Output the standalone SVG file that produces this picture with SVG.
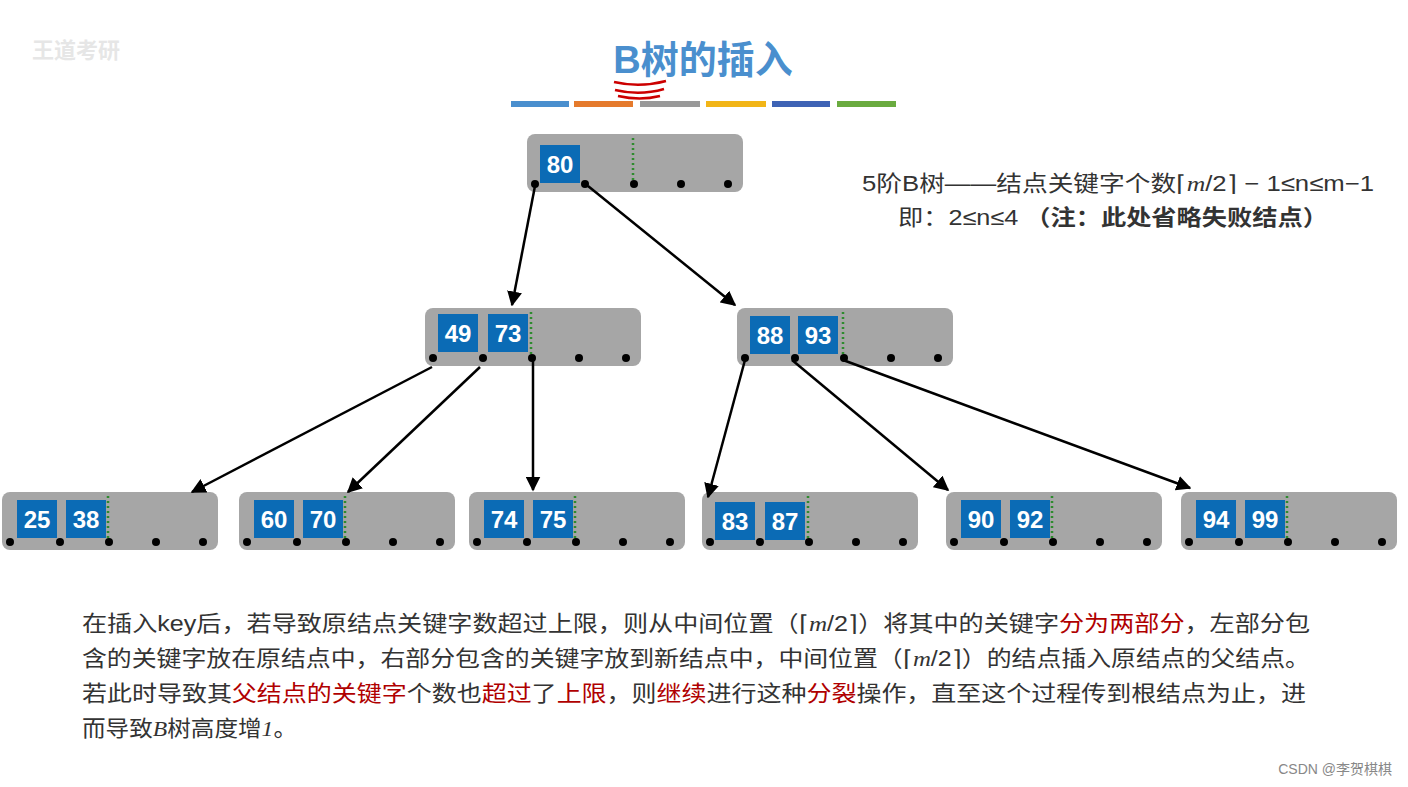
<svg xmlns="http://www.w3.org/2000/svg" width="1408" height="787" viewBox="0 0 1408 787">
<style>
.nb{fill:#a6a6a6}
.k{fill:#0b6bb5}
.kt{fill:#fff;font:bold 24px "Liberation Sans",Arial,sans-serif;text-anchor:middle}
.d{fill:#000}
.dl{stroke:#2e8b2e;stroke-width:2.5;stroke-dasharray:2 3}
.c{stroke:#000;stroke-width:2.5;fill:none;marker-end:url(#a)}
.t{font:22px "Liberation Sans","Noto Sans CJK SC",sans-serif;fill:#333}
.r{fill:#b00000}
</style>
<defs>
<marker id="a" viewBox="0 0 10 10" refX="9" refY="5" markerWidth="6" markerHeight="6" orient="auto"><path d="M0,0L10,5L0,10z" fill="#000"/></marker>
<g id="nd">
<rect class="nb" width="216" height="58" rx="8"/>
<line class="dl" x1="106" y1="4" x2="106" y2="50"/>
<circle class="d" cx="8" cy="50" r="4"/><circle class="d" cx="58" cy="50" r="4"/><circle class="d" cx="107" cy="50" r="4"/><circle class="d" cx="154" cy="50" r="4"/><circle class="d" cx="201" cy="50" r="4"/>
</g>
</defs>
<rect width="1408" height="787" fill="#fff"/>
<text x="32" y="58" style="font:bold 22px 'Noto Sans CJK SC',sans-serif;fill:#e6e6e6">王道考研</text>
<text x="703" y="73" text-anchor="middle" style="font:bold 38px 'Liberation Sans','Noto Sans CJK SC',sans-serif;fill:#4a8fce">B树的插入</text>
<path d="M614,82 Q640,88 666,81 M615,90 Q640,96 664,89 M618,96 Q640,101 660,96" stroke="#c00" stroke-width="2.5" fill="none"/>
<g>
<rect x="511" y="101" width="58" height="6" fill="#4a8fce"/>
<rect x="574" y="101" width="59" height="6" fill="#e57a2c"/>
<rect x="640" y="101" width="60" height="6" fill="#999"/>
<rect x="706" y="101" width="60" height="6" fill="#f2b517"/>
<rect x="772" y="101" width="58" height="6" fill="#3e63b5"/>
<rect x="837" y="101" width="59" height="6" fill="#6aab3f"/>
</g>
<g id="root" transform="translate(527,134)"><use href="#nd"/><rect class="k" x="13" y="11" width="40" height="38"/><text class="kt" x="33" y="39">80</text></g>
<g id="n4973" transform="translate(425,308)"><use href="#nd"/><rect class="k" x="13" y="6" width="40" height="38"/><text class="kt" x="33" y="34">49</text><rect class="k" x="63" y="6" width="40" height="38"/><text class="kt" x="83" y="34">73</text></g>
<g id="n8893" transform="translate(737,308)"><use href="#nd"/><rect class="k" x="13" y="8" width="40" height="38"/><text class="kt" x="33" y="36">88</text><rect class="k" x="61" y="8" width="40" height="38"/><text class="kt" x="81" y="36">93</text></g>
<g id="n2538" transform="translate(2,492)"><use href="#nd"/><rect class="k" x="15" y="8" width="40" height="38"/><text class="kt" x="35" y="36">25</text><rect class="k" x="64" y="8" width="40" height="38"/><text class="kt" x="84" y="36">38</text></g>
<g id="n6070" transform="translate(239,492)"><use href="#nd"/><rect class="k" x="15" y="8" width="40" height="38"/><text class="kt" x="35" y="36">60</text><rect class="k" x="64" y="8" width="40" height="38"/><text class="kt" x="84" y="36">70</text></g>
<g id="n7475" transform="translate(469,492)"><use href="#nd"/><rect class="k" x="15" y="8" width="40" height="38"/><text class="kt" x="35" y="36">74</text><rect class="k" x="64" y="8" width="40" height="38"/><text class="kt" x="84" y="36">75</text></g>
<g id="n8387" transform="translate(702,492)"><use href="#nd"/><rect class="k" x="13" y="10" width="40" height="38"/><text class="kt" x="33" y="38">83</text><rect class="k" x="63" y="10" width="40" height="38"/><text class="kt" x="83" y="38">87</text></g>
<g id="n9092" transform="translate(946,492)"><use href="#nd"/><rect class="k" x="15" y="8" width="40" height="38"/><text class="kt" x="35" y="36">90</text><rect class="k" x="64" y="8" width="40" height="38"/><text class="kt" x="84" y="36">92</text></g>
<g id="n9499" transform="translate(1181,492)"><use href="#nd"/><rect class="k" x="15" y="8" width="40" height="38"/><text class="kt" x="35" y="36">94</text><rect class="k" x="64" y="8" width="40" height="38"/><text class="kt" x="84" y="36">99</text></g>
<g id="connectors">
<line class="c" x1="535" y1="186" x2="512" y2="305"/>
<line class="c" x1="588" y1="186" x2="735" y2="305"/>
<line class="c" x1="432" y1="367" x2="192" y2="492"/>
<line class="c" x1="480" y1="367" x2="348" y2="492"/>
<line class="c" x1="533" y1="359" x2="533" y2="490"/>
<line class="c" x1="745" y1="360" x2="708" y2="497"/>
<line class="c" x1="792" y1="360" x2="948" y2="490"/>
<line class="c" x1="843" y1="360" x2="1190" y2="488"/>
</g>
<text class="t" x="862" y="191" textLength="512" lengthAdjust="spacingAndGlyphs">5阶B树——结点关键字个数⌈<tspan font-style="italic" font-family="Liberation Serif">m</tspan>/2⌉ − 1≤n≤m−1</text>
<text class="t" x="898" y="225" textLength="430" lengthAdjust="spacingAndGlyphs">即：2≤n≤4 <tspan font-weight="bold">（注：此处省略失败结点）</tspan></text>
<text class="t" x="82" y="631" textLength="1228" lengthAdjust="spacingAndGlyphs">在插入key后，若导致原结点关键字数超过上限，则从中间位置（⌈<tspan font-style="italic" font-family="Liberation Serif">m</tspan>/2⌉）将其中的关键字<tspan class="r">分为两部分</tspan>，左部分包</text>
<text class="t" x="82" y="666" textLength="1228" lengthAdjust="spacingAndGlyphs">含的关键字放在原结点中，右部分包含的关键字放到新结点中，中间位置（⌈<tspan font-style="italic" font-family="Liberation Serif">m</tspan>/2⌉）的结点插入原结点的父结点。</text>
<text class="t" x="82" y="701" textLength="1224" lengthAdjust="spacingAndGlyphs">若此时导致其<tspan class="r">父结点的关键字</tspan>个数也<tspan class="r">超过</tspan>了<tspan class="r">上限</tspan>，则<tspan class="r">继续</tspan>进行这种<tspan class="r">分裂</tspan>操作，直至这个过程传到根结点为止，进</text>
<text class="t" x="82" y="736" textLength="215" lengthAdjust="spacingAndGlyphs">而导致<tspan font-style="italic" font-family="Liberation Serif">B</tspan>树高度增<tspan font-style="italic" font-family="Liberation Serif">1</tspan>。</text>
<text x="1392" y="774" text-anchor="end" style="font:14px 'Liberation Sans','Noto Sans CJK SC',sans-serif;fill:#888">CSDN @李贺棋棋</text>
</svg>
